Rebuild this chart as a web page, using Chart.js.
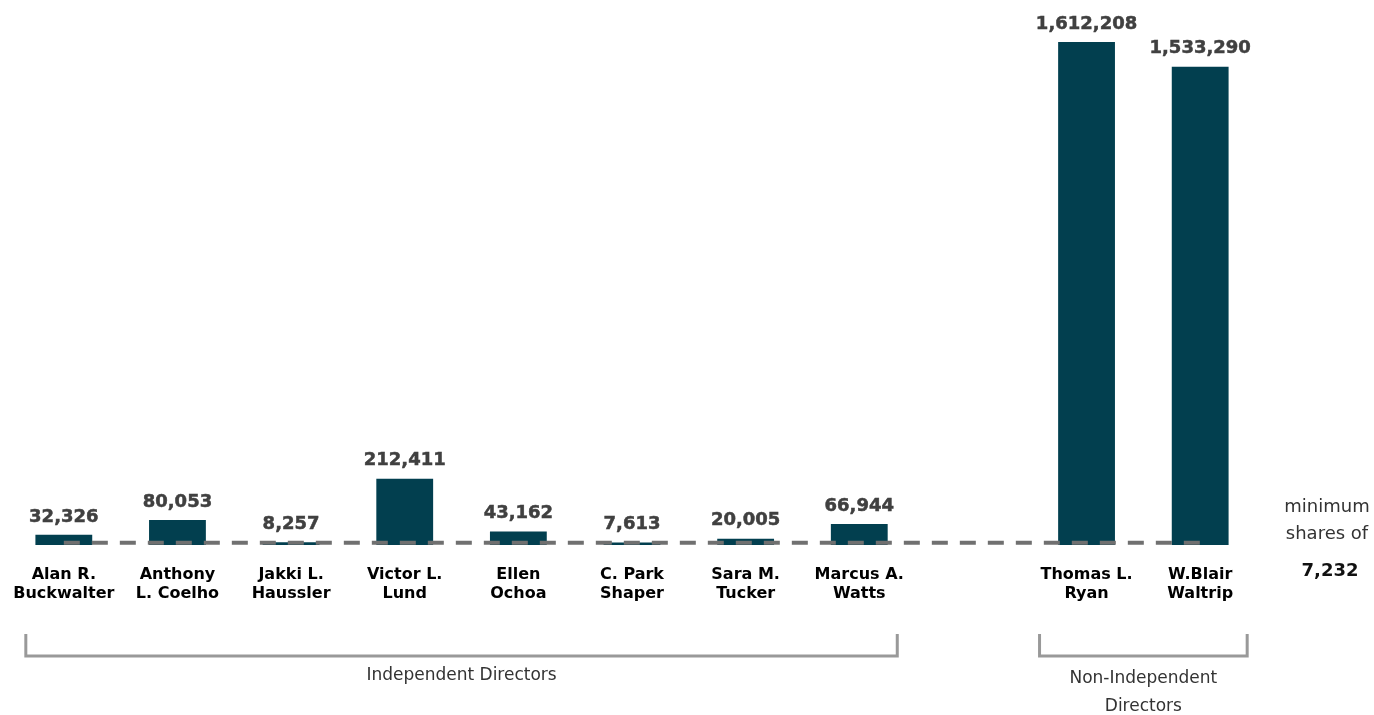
<!DOCTYPE html>
<html>
<head>
<meta charset="utf-8">
<script src="https://cdn.jsdelivr.net/npm/chart.js@4/dist/chart.umd.min.js"></script>
<style>
  html, body { margin: 0; padding: 0; background: #fff; }
  #wrap { width: 1374px; height: 715px; position: relative; }
</style>
</head>
<body>
<div id="wrap"><canvas id="shares_chart"></canvas></div>
<script>
// chart data
const directorNames = [
  ["Alan R.", "Buckwalter"],
  ["Anthony", "L. Coelho"],
  ["Jakki L.", "Haussler"],
  ["Victor L.", "Lund"],
  ["Ellen", "Ochoa"],
  ["C. Park", "Shaper"],
  ["Sara M.", "Tucker"],
  ["Marcus A.", "Watts"],
  "",
  ["Thomas L.", "Ryan"],
  ["W.Blair", "Waltrip"],
];
const sharesOwned = [32326, 80053, 8257, 212411, 43162, 7613, 20005, 66944, null, 1612208, 1533290];
const minimumShares = 7232;
const groupNames = [["Independent Directors"], ["Non-Independent", "Directors"]];
const groupFirst = [0, 9];
const groupLast = [7, 10];

const ctx = document.getElementById("shares_chart").getContext("2d");
const fmt = (v) => v.toLocaleString("en-US");

// numbers above the bars
const valueLabels = {
  id: "valueLabels",
  afterDatasetsDraw(chart) {
    const c = chart.ctx;
    const meta = chart.getDatasetMeta(1);
    c.save();
    c.font = "bold 18px 'DejaVu Sans'";
    c.fillStyle = "#404040";
    c.strokeStyle = "#404040";
    c.lineWidth = 0.5;
    c.textAlign = "center";
    c.textBaseline = "middle";
    meta.data.forEach((bar, i) => {
      if (sharesOwned[i] == null) return;
      c.fillText(fmt(sharesOwned[i]), bar.x, bar.y - 18);
      c.strokeText(fmt(sharesOwned[i]), bar.x, bar.y - 18);
    });
    c.restore();
  },
};

// group brackets + minimum note on the right
const extras = {
  id: "extras",
  afterDraw(chart) {
    const c = chart.ctx;
    const x = chart.scales.x;
    const area = chart.chartArea;
    const pads = [38, 47];
    const textY = [676, 679];
    c.save();
    c.strokeStyle = "#999";
    c.lineWidth = 3;
    c.fillStyle = "#333";
    c.font = "17px 'DejaVu Sans'";
    c.textAlign = "center";
    c.textBaseline = "middle";
    groupNames.forEach((name, g) => {
      const x1 = x.getPixelForValue(groupFirst[g]) - pads[g];
      const x2 = x.getPixelForValue(groupLast[g]) + pads[g];
      c.beginPath();
      c.moveTo(x1, 634);
      c.lineTo(x1, 656);
      c.lineTo(x2, 656);
      c.lineTo(x2, 634);
      c.stroke();
      name.forEach((line, k) => {
        c.fillText(line, (x1 + x2) / 2, textY[g] + k * 28);
      });
    });

    const nx = area.right + 70;
    c.font = "18px 'DejaVu Sans'";
    c.fillText("minimum", nx, 507);
    c.fillText("shares of", nx, 534);
    c.font = "bold 18px 'DejaVu Sans'";
    c.fillStyle = "#111";
    c.fillText(fmt(minimumShares), nx + 3, 571);
    c.restore();
  },
};

new Chart(ctx, {
  data: {
    labels: directorNames,
    datasets: [
      {
        type: "line",
        data: directorNames.map(() => minimumShares),
        borderColor: "#707070",
        borderWidth: 4,
        borderDash: [16, 12],
        pointRadius: 0,
        fill: false,
        order: 0,
      },
      {
        type: "bar",
        data: sharesOwned,
        backgroundColor: "#023f4f",
        barPercentage: 0.5,
        categoryPercentage: 1,
        order: 1,
      },
    ],
  },
  options: {
    responsive: true,
    maintainAspectRatio: false,
    animation: false,
    layout: { padding: { left: 7, right: 117, top: 10, bottom: 92 } },
    plugins: { legend: { display: false }, tooltip: { enabled: false } },
    scales: {
      x: {
        offset: true,
        grid: { display: false, drawTicks: false },
        border: { display: false },
        afterFit(scale) {
          scale.paddingLeft = 0;
          scale.paddingRight = 0;
        },
        ticks: {
          color: "#000",
          padding: 20,
          maxRotation: 0,
          autoSkip: false,
          font: { family: "'DejaVu Sans'", size: 16, weight: "bold", lineHeight: 1.19 },
        },
      },
      y: {
        display: false,
        min: 0,
        max: 1715000,
      },
    },
  },
  plugins: [valueLabels, extras],
});
</script>
</body>
</html>
